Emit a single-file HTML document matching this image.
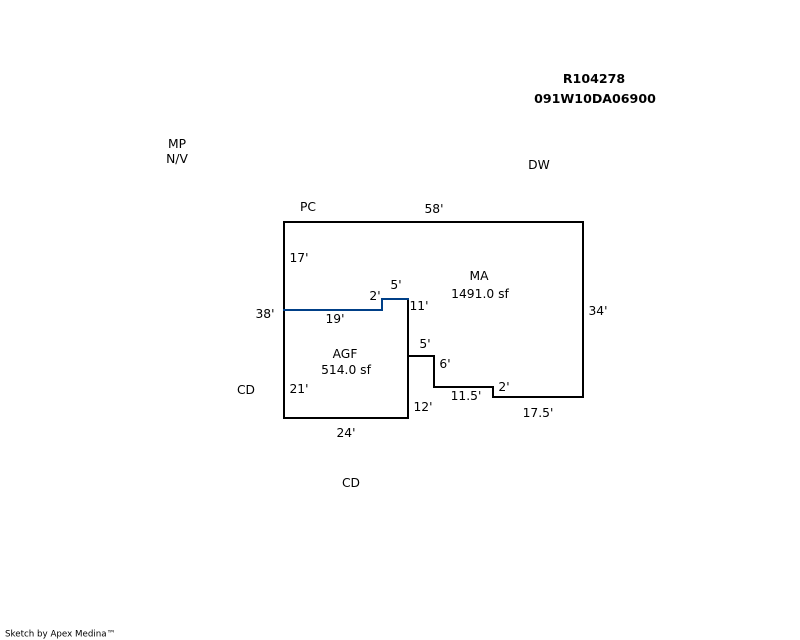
<!DOCTYPE html>
<html>
<head>
<meta charset="utf-8">
<style>
html,body{margin:0;padding:0;background:#fff;width:800px;height:640px;overflow:hidden}
svg{display:block}
text{font-family:"DejaVu Sans",sans-serif;font-size:12.3px;fill:#000;text-anchor:middle}
.b{font-weight:bold;font-size:12.6px}
.s{font-size:8.7px;text-anchor:start}
</style>
</head>
<body>
<svg width="800" height="640" viewBox="0 0 800 640" xmlns="http://www.w3.org/2000/svg">
<g fill="none" stroke-width="2" stroke-linecap="square">
<path stroke="#000" d="M284 222H583V397H493V387H434V356H408"/>
<path stroke="#000" d="M284 222V418H408V299"/>
<path stroke="#003f87" d="M284 310H382V299H408"/>
</g>
<text class="b" x="594" y="83">R104278</text>
<text class="b" x="595" y="103">091W10DA06900</text>
<text x="177" y="148">MP</text>
<text x="177" y="163">N/V</text>
<text x="539" y="169">DW</text>
<text x="308" y="211">PC</text>
<text x="434" y="213">58'</text>
<text x="299" y="262">17'</text>
<text x="479" y="280">MA</text>
<text x="480" y="298">1491.0 sf</text>
<text x="396" y="289">5'</text>
<text x="375" y="300">2'</text>
<text x="419" y="310">11'</text>
<text x="598" y="315">34'</text>
<text x="265" y="318">38'</text>
<text x="335" y="323">19'</text>
<text x="345" y="358">AGF</text>
<text x="346" y="374">514.0 sf</text>
<text x="425" y="348">5'</text>
<text x="445" y="368">6'</text>
<text x="246" y="394">CD</text>
<text x="299" y="393">21'</text>
<text x="504" y="391">2'</text>
<text x="466" y="400">11.5'</text>
<text x="423" y="411">12'</text>
<text x="538" y="417">17.5'</text>
<text x="346" y="437">24'</text>
<text x="351" y="487">CD</text>
<text class="s" x="5" y="636.5">Sketch by Apex Medina™</text>
</svg>
</body>
</html>
